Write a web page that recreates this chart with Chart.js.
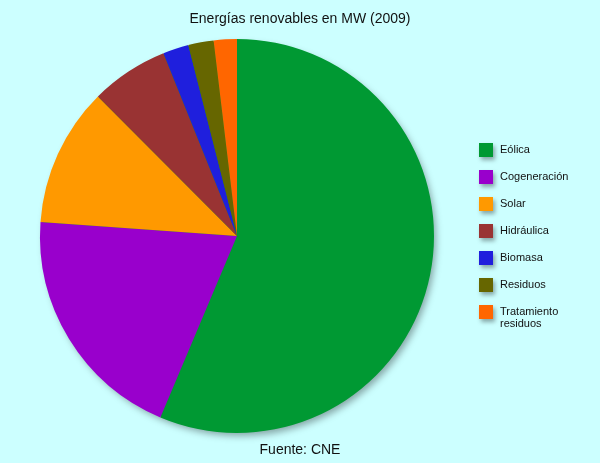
<!DOCTYPE html>
<html>
<head>
<meta charset="utf-8">
<script src="https://cdn.jsdelivr.net/npm/chart.js@4/dist/chart.umd.min.js"></script>
<style>
  html, body { margin: 0; padding: 0; background: #ccffff; }
  #wrap { width: 600px; height: 463px; }
</style>
</head>
<body>
<div id="wrap"><canvas id="chart"></canvas></div>
<script>
const chartTitle = 'Energías renovables en MW (2009)';
const sourceNote = 'Fuente: CNE';
const categories = ['Eólica', 'Cogeneración', 'Solar', 'Hidráulica', 'Biomasa', 'Residuos', 'Tratamiento residuos'];
const megawatts = [18700, 6560, 3780, 2120, 700, 690, 630];
const sliceColors = ['#009933', '#9900cc', '#ff9900', '#993333', '#1f1fdd', '#666600', '#ff6600'];

// soft drop shadow under the whole pie, drawn once before the slices
const pieShadow = {
  id: 'pieShadow',
  beforeDatasetsDraw(chart) {
    const arc = chart.getDatasetMeta(0).data[0];
    if (!arc) return;
    const ctx = chart.ctx;
    ctx.save();
    ctx.shadowColor = 'rgba(0,0,0,0.35)';
    ctx.shadowBlur = 7;
    ctx.shadowOffsetX = 3;
    ctx.shadowOffsetY = 4;
    ctx.fillStyle = '#009933';
    ctx.beginPath();
    ctx.arc(arc.x, arc.y, arc.outerRadius - 1, 0, Math.PI * 2);
    ctx.fill();
    ctx.restore();
  }
};

// title, footer and the right-hand legend
const decorations = {
  id: 'decorations',
  afterDraw(chart) {
    const ctx = chart.ctx;
    ctx.save();
    ctx.fillStyle = '#111';
    ctx.textAlign = 'center';
    ctx.textBaseline = 'middle';
    ctx.font = '14px "Liberation Sans", Arial, sans-serif';
    ctx.fillText(chartTitle, 300, 19);
    ctx.fillText(sourceNote, 300, 450);

    ctx.textAlign = 'left';
    ctx.font = '11px "Liberation Sans", Arial, sans-serif';
    const colors = chart.data.datasets[0].backgroundColor;
    chart.data.labels.forEach((label, i) => {
      const y = 150 + i * 27;
      ctx.save();
      ctx.shadowColor = 'rgba(0,0,0,0.35)';
      ctx.shadowBlur = 4;
      ctx.shadowOffsetX = 2;
      ctx.shadowOffsetY = 3;
      ctx.fillStyle = colors[i];
      ctx.fillRect(479, y - 7, 14, 14);
      ctx.restore();
      const words = label === 'Tratamiento residuos' ? ['Tratamiento', 'residuos'] : [label];
      words.forEach((w, j) => ctx.fillText(w, 500, y + j * 12));
    });
    ctx.restore();
  }
};

new Chart(document.getElementById('chart'), {
  type: 'pie',
  data: {
    labels: categories,
    datasets: [{
      data: megawatts,
      backgroundColor: sliceColors,
      borderWidth: 0,
      hoverOffset: 0
    }]
  },
  options: {
    responsive: true,
    maintainAspectRatio: false,
    animation: false,
    layout: {
      padding: { top: 39, bottom: 30, left: 40, right: 166 }
    },
    plugins: {
      legend: { display: false },
      title: { display: false },
      tooltip: { enabled: false }
    }
  },
  plugins: [pieShadow, decorations]
});
</script>
</body>
</html>
